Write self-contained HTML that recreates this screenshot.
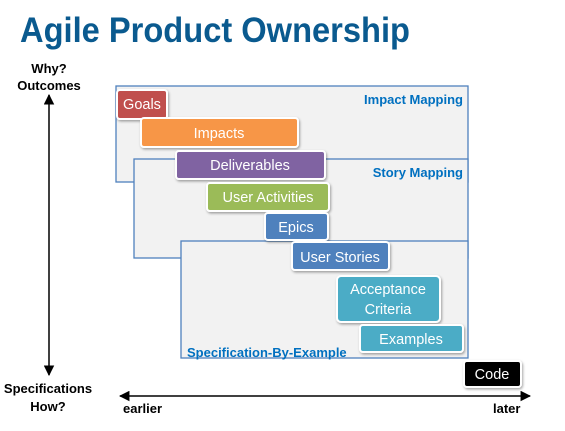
<!DOCTYPE html>
<html><head><meta charset="utf-8"><style>
html,body{margin:0;padding:0;background:#fff;width:565px;height:431px;overflow:hidden}
text{font-family:"Liberation Sans",sans-serif}
</style></head><body>
<svg width="565" height="431" xmlns="http://www.w3.org/2000/svg">
<defs>
<marker id="ah" viewBox="0 0 10 10" refX="9" refY="5" markerWidth="7" markerHeight="7" orient="auto-start-reverse"><path d="M0,0 L10,5 L0,10 Z" fill="#000"/></marker>
<filter id="sh" x="-20%" y="-20%" width="140%" height="150%"><feDropShadow dx="1" dy="1.5" stdDeviation="1.2" flood-color="#000" flood-opacity="0.35"/></filter>
</defs>
<text x="20" y="42" font-size="35" font-weight="bold" fill="#0a5a8f" textLength="390" lengthAdjust="spacingAndGlyphs">Agile Product Ownership</text>
<g font-size="13" font-weight="bold" fill="#000" text-anchor="middle">
<text x="49" y="73">Why?</text>
<text x="49" y="90">Outcomes</text>
<text x="48" y="393">Specifications</text>
<text x="48" y="411">How?</text>
</g>
<line x1="49" y1="95" x2="49" y2="375" stroke="#000" stroke-width="1.5" marker-start="url(#ah)" marker-end="url(#ah)"/>
<line x1="120" y1="396" x2="530" y2="396" stroke="#000" stroke-width="1.5" marker-start="url(#ah)" marker-end="url(#ah)"/>
<text x="123" y="413" font-size="13" font-weight="bold">earlier</text>
<text x="493" y="413" font-size="13" font-weight="bold">later</text>
<rect x="116" y="86" width="352" height="96" fill="#f2f2f2" stroke="#4f81bd" stroke-width="1.3"/>
<rect x="134" y="159" width="334" height="99" fill="#f2f2f2" stroke="#4f81bd" stroke-width="1.3"/>
<rect x="181" y="241" width="287" height="117" fill="#f2f2f2" stroke="#4f81bd" stroke-width="1.3"/>
<g font-size="13" font-weight="bold" fill="#0070c0">
<text x="463" y="104" text-anchor="end">Impact Mapping</text>
<text x="463" y="177" text-anchor="end">Story Mapping</text>
<text x="187" y="357">Specification-By-Example</text>
</g>
<g stroke="#fff" stroke-width="2" filter="url(#sh)">
<rect x="117" y="90" width="50" height="29" rx="3" fill="#c0504d"/>
<rect x="141" y="118" width="157" height="29" rx="3" fill="#f79646"/>
<rect x="176" y="151" width="149" height="28" rx="3" fill="#8064a2"/>
<rect x="207" y="183" width="122" height="28" rx="3" fill="#9bbb59"/>
<rect x="265" y="213" width="63" height="27" rx="3" fill="#4f81bd"/>
<rect x="292" y="242" width="97" height="28" rx="3" fill="#4f81bd"/>
<rect x="337" y="276" width="103" height="46" rx="4" fill="#4bacc6"/>
<rect x="360" y="325" width="103" height="27" rx="3" fill="#4bacc6"/>
<rect x="464" y="361" width="57" height="26" rx="3" fill="#000"/>
</g>
<g font-size="14.5" fill="#fff" text-anchor="middle">
<text x="142" y="109">Goals</text>
<text x="219" y="138">Impacts</text>
<text x="250" y="170">Deliverables</text>
<text x="268" y="202">User Activities</text>
<text x="296" y="232">Epics</text>
<text x="340" y="262">User Stories</text>
<text x="388" y="294">Acceptance</text>
<text x="388" y="314">Criteria</text>
<text x="411" y="344">Examples</text>
<text x="492" y="379">Code</text>
</g>
</svg>
</body></html>
